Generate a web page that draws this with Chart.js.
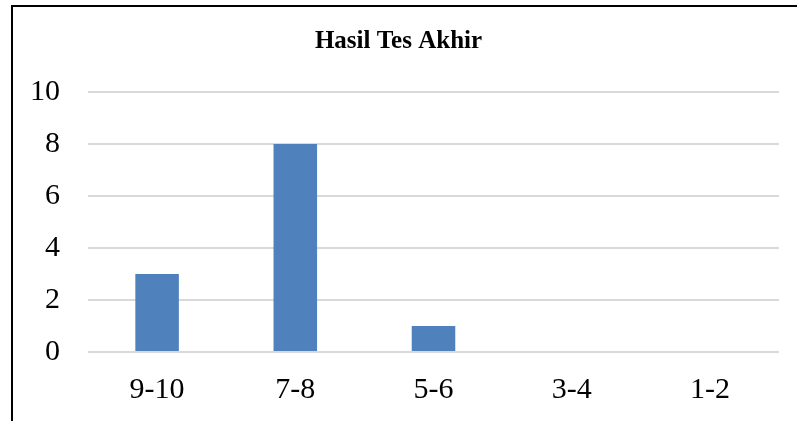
<!DOCTYPE html>
<html>
<head>
<meta charset="utf-8">
<script src="https://cdn.jsdelivr.net/npm/chart.js@4.4.0/dist/chart.umd.min.js"></script>
<style>
  html, body { margin: 0; padding: 0; background: #ffffff; }
  canvas { display: block; }
</style>
</head>
<body>
<canvas id="c" width="797" height="421"></canvas>
<script>
const categories = ['9-10', '7-8', '5-6', '3-4', '1-2'];
const counts = [3, 8, 1, 0, 0];
const yTicks = [0, 2, 4, 6, 8, 10];
const chartTitle = 'Hasil Tes Akhir';

const FONT = '"Liberation Serif", "Times New Roman", Times, serif';

const framePlugin = {
  id: 'frame',
  afterDraw(chart) {
    const ctx = chart.ctx;
    ctx.save();
    ctx.fillStyle = '#000000';
    ctx.fillRect(11, 5, 797 - 11, 2);
    ctx.fillRect(11, 5, 2, 421 - 5);
    ctx.restore();
  }
};

new Chart(document.getElementById('c'), {
  type: 'bar',
  data: {
    labels: categories,
    datasets: [{
      data: counts,
      backgroundColor: '#4F81BD',
      borderWidth: 0,
      barPercentage: 0.315,
      categoryPercentage: 1.0
    }]
  },
  options: {
    responsive: false,
    animation: false,
    devicePixelRatio: 1,
    layout: { padding: { left: 18, right: 18, top: 0, bottom: 13 } },
    plugins: {
      legend: { display: false },
      tooltip: { enabled: false },
      title: {
        display: true,
        text: chartTitle,
        color: '#000000',
        font: { family: FONT, size: 25, weight: 'bold', lineHeight: 1.2 },
        padding: { top: 27, bottom: 35 }
      }
    },
    scales: {
      x: {
        afterFit(scale) { scale.height = 56; },
        grid: { display: false, drawTicks: false },
        border: { display: false },
        ticks: {
          color: '#000000',
          font: { family: FONT, size: 30, lineHeight: 1.2 },
          padding: 20,
          maxRotation: 0
        }
      },
      y: {
        min: 0,
        max: 10,
        afterFit(scale) { scale.width = 70; },
        afterBuildTicks(scale) { scale.ticks = yTicks.map(v => ({ value: v })); },
        grid: { color: '#d9d9d9', lineWidth: 2, drawTicks: false },
        border: { display: false },
        ticks: {
          color: '#000000',
          font: { family: FONT, size: 30, lineHeight: 1.2 },
          padding: 28
        }
      }
    }
  },
  plugins: [framePlugin]
});
</script>
</body>
</html>
